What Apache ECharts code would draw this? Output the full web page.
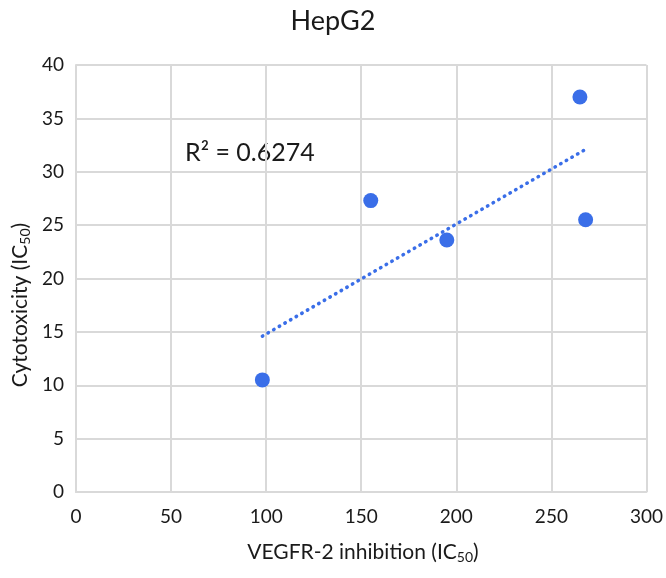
<!DOCTYPE html>
<html>
<head>
<meta charset="utf-8">
<script src="https://cdn.jsdelivr.net/npm/echarts@6/dist/echarts.min.js"></script>
<style>html,body{margin:0;padding:0;background:#fff}#c{width:666px;height:578px}</style>
</head>
<body>
<div id="c"></div>
<script>
// Data
const vegfrX = [98, 155, 195, 265, 268];
const cytoY = [10.5, 27.3, 23.6, 37, 25.5];
const trendX = [98, 268];
const trendY = [14.6, 32.1];
const xTicks = [0, 50, 100, 150, 200, 250, 300];
const yTicks = [0, 5, 10, 15, 20, 25, 30, 35, 40];
const r2Text = 'R² = 0.6274';
const titleText = 'HepG2';

const FONT = 'Lato';
const chart = echarts.init(document.getElementById('c'));
const pts = vegfrX.map((x, i) => [x, cytoY[i]]);
const trend = trendX.map((x, i) => [x, trendY[i]]);
const gridColor = '#d9d9d9';
const blue = '#3a6ee8';

chart.setOption({
  backgroundColor: '#fff',
  animation: false,
  title: {
    text: titleText, left: 'center', top: 3,
    textStyle: {fontFamily: FONT, fontSize: 27, fontWeight: 'normal', color: '#1a1a1a'}
  },
  grid: {left: 76, right: 16, top: 65, bottom: 86},
  xAxis: {
    type: 'value', min: xTicks[0], max: xTicks[xTicks.length - 1], interval: 50,
    axisLine: {show: true, lineStyle: {color: gridColor, width: 2}},
    axisTick: {show: false},
    splitLine: {show: true, lineStyle: {color: gridColor, width: 2}},
    axisLabel: {fontFamily: FONT, fontSize: 19, color: '#1a1a1a', margin: 15}
  },
  yAxis: {
    type: 'value', min: yTicks[0], max: yTicks[yTicks.length - 1], interval: 5,
    axisLine: {show: true, lineStyle: {color: gridColor, width: 2}},
    axisTick: {show: false},
    splitLine: {show: true, lineStyle: {color: gridColor, width: 2}},
    axisLabel: {fontFamily: FONT, fontSize: 19, color: '#1a1a1a', margin: 12}
  },
  graphic: [
    {
      type: 'text', x: 363, y: 552,
      style: {
        text: 'VEGFR-2 inhibition (IC{s|50})', align: 'center', verticalAlign: 'middle',
        font: '21px ' + FONT, fill: '#1a1a1a',
        rich: {s: {fontSize: 14, fontFamily: FONT, verticalAlign: 'bottom', padding: [10, 0, 0, 0]}}
      }
    },
    {
      type: 'text', x: 20, y: 305, rotation: Math.PI / 2,
      style: {
        text: 'Cytotoxicity (IC{s|50})', align: 'center', verticalAlign: 'middle',
        font: '21px ' + FONT, fill: '#1a1a1a',
        rich: {s: {fontSize: 14, fontFamily: FONT, verticalAlign: 'bottom', padding: [10, 0, 0, 0]}}
      }
    },
    {
      type: 'text', x: 185, y: 140,
      style: {text: r2Text, font: '25px ' + FONT, fill: '#1a1a1a'}
    }
  ],
  series: [
    {
      type: 'line', data: trend, showSymbol: false, symbol: 'none',
      lineStyle: {color: blue, width: 3.5, type: [0.5, 6], cap: 'round', opacity: 1},
      z: 2
    },
    {
      type: 'scatter', data: pts, symbol: 'circle', symbolSize: 15,
      itemStyle: {color: blue, opacity: 1}, z: 3
    }
  ]
});
</script>
</body>
</html>
